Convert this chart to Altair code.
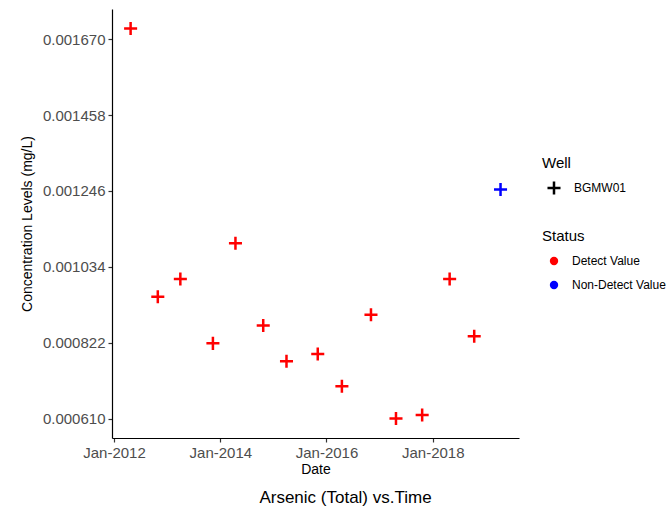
import altair as alt
import pandas as pd

# Sampling results for well BGMW01
dates = [
    "2012-04-24", "2012-10-28", "2013-04-01", "2013-11-11", "2014-04-15",
    "2014-10-23", "2015-04-01", "2015-11-02", "2016-04-16", "2016-11-02",
    "2017-04-23", "2017-10-20", "2018-04-27", "2018-10-13", "2019-04-12",
]
concentrations = [
    0.00170, 0.00095, 0.00100, 0.00082, 0.00110,
    0.00087, 0.00077, 0.00079, 0.00070, 0.00090,
    0.00061, 0.00062, 0.00100, 0.00084, 0.00125,
]
status = ["Detect Value"] * 14 + ["Non-Detect Value"]
wells = ["BGMW01"] * 15

y_ticks = [0.000610, 0.000822, 0.001034, 0.001246, 0.001458, 0.001670]
x_tick_years = [2012, 2014, 2016, 2018]

df = pd.DataFrame({
    "Date": pd.to_datetime(dates),
    "Value": concentrations,
    "Status": status,
    "Well": wells,
})

# 5% padding around the data range on both axes
d_min, d_max = df["Date"].min(), df["Date"].max()
d_pad = (d_max - d_min) * 0.05
x_domain = [(d_min - d_pad).strftime("%Y-%m-%d"), (d_max + d_pad).strftime("%Y-%m-%d")]
v_min, v_max = df["Value"].min(), df["Value"].max()
v_pad = (v_max - v_min) * 0.05
y_domain = [v_min - v_pad, v_max + v_pad]

FONT = "Liberation Sans"
PLUS = "M-1,0H1M0,-1V1"

status_scale = alt.Scale(domain=["Detect Value", "Non-Detect Value"], range=["#FF0000", "#0000FF"])
status_legend = alt.Legend(
    title="Status",
    orient="none",
    legendX=430,
    legendY=220,
    symbolType="circle",
    symbolSize=70,
    symbolStrokeWidth=0,
    symbolOffset=6,
    labelOffset=12,
    titlePadding=11,
    rowPadding=12,
)

chart = alt.Chart(df).mark_point(filled=True, strokeWidth=2.5, size=170, opacity=1).encode(
    x=alt.X(
        "Date:T",
        title="Date",
        scale=alt.Scale(domain=x_domain),
        axis=alt.Axis(
            values=[alt.DateTime(year=y, month=1, date=1) for y in x_tick_years],
            format="%b-%Y",
            grid=False,
        ),
    ),
    y=alt.Y(
        "Value:Q",
        title="Concentration Levels (mg/L)",
        scale=alt.Scale(domain=y_domain, nice=False, zero=False),
        axis=alt.Axis(values=y_ticks, format=".6f", grid=False),
    ),
    shape=alt.Shape(
        "Well:N",
        scale=alt.Scale(range=[PLUS]),
        legend=alt.Legend(
            title="Well",
            orient="none",
            legendX=430,
            legendY=147,
            symbolStrokeColor="black",
            symbolFillColor="black",
            symbolStrokeWidth=2.5,
            symbolSize=170,
            symbolOffset=4,
            labelOffset=12,
            titlePadding=9,
        ),
    ),
    fill=alt.Fill("Status:N", scale=status_scale, legend=status_legend),
    stroke=alt.Stroke("Status:N", scale=status_scale, legend=status_legend),
).properties(
    width=407,
    height=429,
    title=alt.TitleParams(
        "Arsenic (Total) vs.Time",
        orient="bottom",
        anchor="middle",
        dx=30,
        offset=14,
        fontSize=17,
        fontWeight="normal",
        font=FONT,
        color="black",
    ),
    padding={"left": 112, "top": 9, "right": 148, "bottom": 78},
    autosize=alt.AutoSizeParams(type="none"),
).configure_view(
    stroke=None,
).configure_axis(
    domainColor="black",
    domainWidth=1.2,
    tickColor="#333333",
    tickWidth=1.2,
    tickSize=4,
    labelFont=FONT,
    labelFontSize=15,
    labelColor="#4D4D4D",
    labelPadding=3,
    titleFont=FONT,
    titleFontSize=14,
    titleFontWeight="normal",
    titleColor="black",
).configure_axisX(
    titlePadding=2,
).configure_axisY(
    titlePadding=8,
).configure_legend(
    titleFont=FONT,
    titleFontSize=15,
    titleFontWeight="normal",
    titleColor="black",
    labelFont=FONT,
    labelFontSize=12,
    labelColor="black",
)

chart.save("out.html", embed_options={"renderer": "svg", "actions": False})
